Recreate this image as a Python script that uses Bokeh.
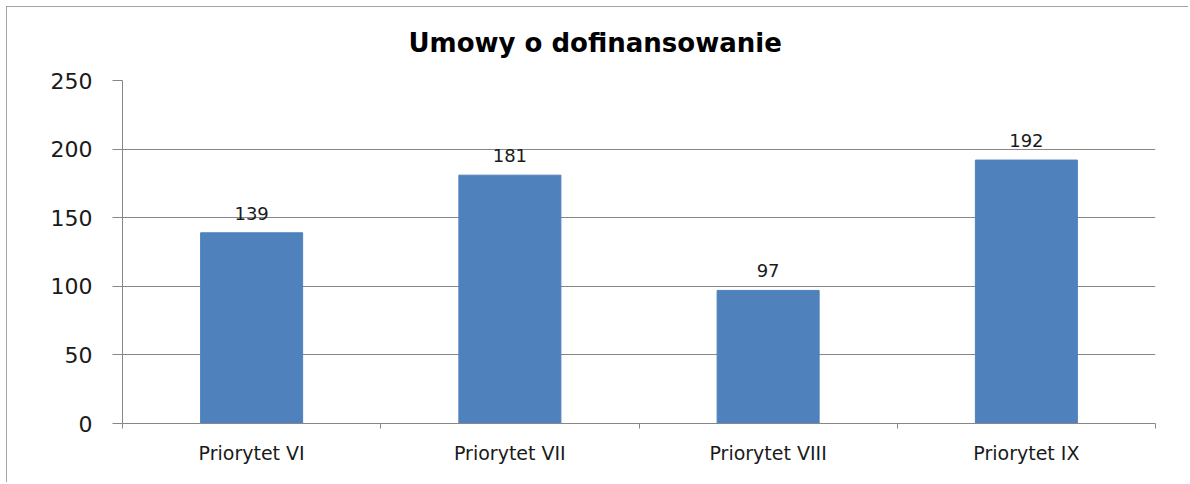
from bokeh.plotting import figure
from bokeh.models import Range1d, FixedTicker, LabelSet, ColumnDataSource
from bokeh.embed import file_html
from bokeh.resources import INLINE
from bokeh.core.properties import value

title = "Umowy o dofinansowanie"
categories = ["Priorytet VI", "Priorytet VII", "Priorytet VIII", "Priorytet IX"]
values = [139, 181, 97, 192]
y_ticks = [0, 50, 100, 150, 200, 250]

positions = [i + 0.5 for i in range(len(categories))]
boundaries = [i for i in range(len(categories) + 1)]

src = ColumnDataSource(dict(x=positions, top=values, label=[str(v) for v in values]))

GRAY = "#878787"
FONT = "DejaVu Sans"

p = figure(width=1182, height=476, output_backend="svg", toolbar_location=None,
           x_range=Range1d(0, len(categories)), y_range=Range1d(0, 250),
           min_border_left=116, min_border_right=33, min_border_top=74, min_border_bottom=59)
p.styles = {"outline": f"2px solid {GRAY}", "outline-offset": "-2px",
            "margin-left": "6px", "margin-top": "6px"}
p.outline_line_color = None
p.background_fill_color = "white"
p.border_fill_color = "white"

p.title.text = title
p.title.align = "left"
p.title.offset = 286
p.title.vertical_align = "top"
p.title.standoff = 41
p.title.text_font = FONT
p.title.text_font_size = "26px"
p.title.text_font_style = "bold"
p.title.text_color = "black"

p.vbar(x="x", top="top", bottom=0, width=0.395, source=src, color="#4F81BD")

# axes
p.yaxis.ticker = FixedTicker(ticks=y_ticks)
p.yaxis.axis_line_color = GRAY
p.yaxis.major_tick_line_color = GRAY
p.yaxis.major_tick_out = 10
p.yaxis.major_tick_in = 0
p.yaxis.minor_tick_line_color = None
p.yaxis.major_label_text_font = FONT
p.yaxis.major_label_text_font_size = "22px"
p.yaxis.major_label_text_color = "#1a1a1a"
p.yaxis.major_label_standoff = 20

p.xaxis.ticker = FixedTicker(ticks=positions, minor_ticks=boundaries)
p.xaxis.major_label_overrides = {pos: c for pos, c in zip(positions, categories)}
p.xaxis.axis_line_color = GRAY
p.xaxis.major_tick_line_color = None
p.xaxis.major_tick_out = 0
p.xaxis.major_tick_in = 0
p.xaxis.minor_tick_line_color = GRAY
p.xaxis.minor_tick_out = 5
p.xaxis.minor_tick_in = 0
p.xaxis.major_label_text_font = FONT
p.xaxis.major_label_text_font_size = "19px"
p.xaxis.major_label_text_color = "#1a1a1a"
p.xaxis.major_label_standoff = 13

p.xgrid.grid_line_color = None
p.ygrid.ticker = FixedTicker(ticks=y_ticks)
p.ygrid.grid_line_color = GRAY
p.ygrid.grid_line_width = 1

labels = LabelSet(x="x", y="top", text="label", source=src, y_offset=13,
                  text_align="center", text_baseline="alphabetic",
                  text_font=value(FONT), text_font_size="18px", text_color="#1a1a1a")
p.add_layout(labels)

open("out.html", "w").write(file_html(p, INLINE))
